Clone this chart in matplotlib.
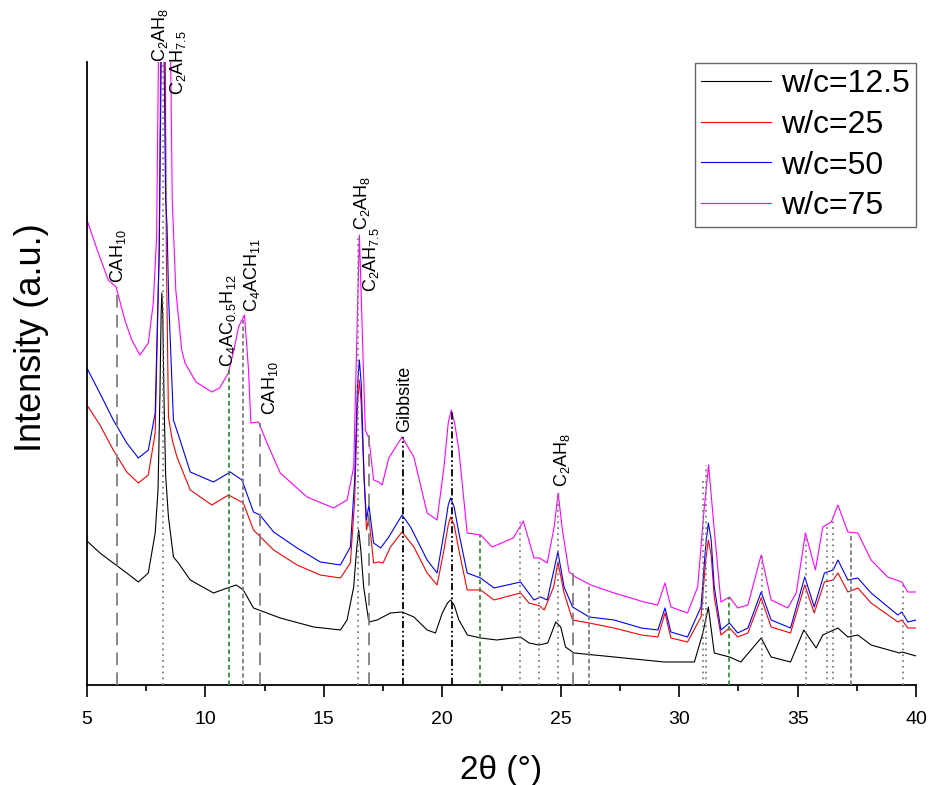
import matplotlib
matplotlib.use('Agg')
import matplotlib.pyplot as plt

plt.rcParams['font.family'] = ['Liberation Sans', 'DejaVu Sans']
plt.rcParams['mathtext.fontset'] = 'custom'
plt.rcParams['mathtext.rm'] = 'Liberation Sans'
plt.rcParams['mathtext.it'] = 'Liberation Sans:italic'

# traced XRD patterns (2theta in degrees, intensity in arbitrary units)
x_125 = [5.0, 5.55, 6.11, 6.68, 7.17, 7.59, 7.88, 8.0, 8.08, 8.13, 8.16, 8.2, 8.25, 8.32,
         8.44, 8.65, 8.86, 9.36, 10.34, 11.05, 11.3, 11.6, 12.03, 13.16, 14.57, 15.7, 15.98,
         16.26, 16.38, 16.47, 16.56, 16.68, 16.9, 17.25, 17.81, 18.3, 18.8, 19.36, 19.71,
         20.0, 20.22, 20.35, 20.5, 20.7, 21.06, 21.62, 22.3, 23.3, 23.66, 24.08, 24.45,
         24.79, 25.0, 25.2, 25.56, 27.25, 29.37, 30.64, 31.0, 31.23, 31.48, 32.12, 32.6,
         33.46, 33.88, 34.7, 35.26, 35.78, 36.06, 36.7, 37.12, 37.54, 38.1, 39.3, 39.4, 40.0]
y_125 = [144, 132, 122, 112, 103, 112, 152, 195, 290, 370, 392, 370, 290, 210,
         168, 128, 122, 105, 92, 98, 100, 95, 77, 67, 58, 55, 65,
         98, 135, 155, 135, 98, 63, 65, 72, 73, 68, 55, 52,
         72, 82, 85, 80, 65, 50, 47, 45, 48, 42, 40, 42,
         63, 58, 38, 32, 28, 23, 23, 52, 78, 32, 28, 23,
         47, 28, 23, 55, 37, 50, 57, 48, 50, 40, 32, 33, 29]

x_25 = [5.0, 5.55, 6.11, 6.68, 7.17, 7.59, 7.88, 8.05, 8.12, 8.3, 8.35, 8.44, 8.6, 8.8, 9.36,
        10.27, 10.98, 11.6, 12.03, 12.88, 13.87, 14.85, 15.7, 16.12, 16.3, 16.42, 16.5,
        16.58, 16.65, 16.8, 16.9, 17.1, 17.32, 17.5, 17.81, 18.3, 18.8, 19.36, 19.78,
        20.07, 20.25, 20.35, 20.5, 20.7, 21.05, 21.62, 22.18, 23.3, 23.66, 24.12, 24.3,
        24.7, 24.88, 25.14, 25.5, 26.2, 27.25, 28.4, 29.1, 29.4, 29.65, 30.35, 30.92,
        31.12, 31.23, 31.35, 31.48, 31.76, 32.12, 32.47, 32.9, 33.46, 33.88, 34.7, 35.3,
        35.7, 36.13, 36.5, 36.7, 37.12, 37.54, 38.1, 39.23, 39.4, 39.65, 40.0]
y_25 = [280, 260, 235, 213, 202, 210, 252, 435, 660, 660, 435, 268, 245, 228, 195,
        180, 190, 182, 155, 135, 120, 110, 107, 122, 185, 280, 305,
        280, 235, 155, 168, 122, 123, 122, 138, 153, 138, 112, 100,
        135, 160, 168, 160, 135, 95, 95, 85, 92, 82, 79, 75,
        98, 123, 92, 65, 62, 57, 50, 48, 72, 47, 43, 68,
        125, 145, 130, 88, 50, 57, 48, 52, 87, 58, 52, 100,
        72, 103, 105, 112, 93, 97, 82, 63, 65, 57, 57]

x_50 = [5.0, 5.69, 6.11, 6.68, 7.17, 7.59, 7.88, 8.05, 8.15, 8.25, 8.32, 8.38, 8.45, 8.65,
        8.93, 9.36, 10.34, 11.05, 11.54, 12.03, 12.3, 12.88, 13.87, 14.85, 15.7, 16.12,
        16.3, 16.42, 16.5, 16.58, 16.7, 16.8, 16.9, 17.1, 17.4, 17.74, 18.3, 18.66, 19.36,
        19.78, 20.07, 20.25, 20.35, 20.5, 20.7, 21.05, 21.62, 22.18, 23.3, 23.87, 24.15,
        24.43, 24.88, 25.14, 25.5, 26.2, 27.25, 28.4, 29.1, 29.4, 29.65, 30.35, 30.92,
        31.12, 31.23, 31.35, 31.48, 31.76, 32.12, 32.47, 32.9, 33.46, 33.88, 34.7, 35.3,
        35.7, 36.13, 36.5, 36.7, 37.12, 37.54, 38.1, 39.23, 39.4, 39.65, 40.0]
y_50 = [317, 285, 265, 242, 227, 235, 272, 435, 660, 640, 485, 460, 385, 265,
        245, 213, 203, 213, 205, 173, 170, 153, 137, 123, 120, 138,
        205, 300, 325, 300, 205, 165, 180, 142, 137, 148, 170, 158, 125,
        112, 152, 180, 187, 178, 152, 112, 107, 97, 103, 85, 88,
        85, 133, 98, 78, 68, 65, 57, 55, 77, 53, 48, 78,
        140, 162, 145, 98, 55, 62, 52, 57, 93, 65, 57, 108,
        78, 112, 115, 125, 105, 107, 92, 70, 73, 63, 65]

x_75 = [5.0, 5.48, 5.9, 6.23, 6.6, 6.89, 7.24, 7.59, 7.8, 7.94, 8.05, 8.5, 8.6, 8.75,
        9.0, 9.14, 9.6, 10.27, 10.6, 10.97, 11.2, 11.4, 11.5, 11.65, 11.82, 11.92, 12.24,
        12.6, 13.16, 14.29, 15.41, 15.98, 16.26, 16.4, 16.5, 16.62, 16.75, 16.9, 17.1,
        17.32, 17.46, 17.74, 18.3, 18.8, 19.36, 19.78, 20.07, 20.25, 20.38, 20.52, 20.7,
        21.05, 21.62, 22.1, 23.0, 23.42, 23.87, 24.1, 24.43, 24.72, 24.89, 25.07, 25.35,
        25.63, 26.27, 27.25, 28.52, 29.09, 29.4, 29.65, 30.35, 30.78, 31.06, 31.24, 31.48,
        31.76, 32.12, 32.47, 32.9, 33.46, 33.88, 34.58, 34.94, 35.33, 35.75, 36.06, 36.42,
        36.7, 37.12, 37.54, 38.1, 38.8, 39.4, 39.65, 40.0]
y_75 = [465, 432, 405, 398, 365, 345, 330, 342, 382, 448, 700, 700, 485, 395,
        335, 322, 303, 293, 297, 312, 335, 358, 363, 370, 315, 262, 263,
        242, 212, 188, 177, 185, 218, 355, 450, 355, 255, 247, 205,
        203, 200, 227, 248, 228, 172, 165, 218, 262, 275, 262, 235,
        152, 150, 138, 147, 164, 127, 127, 122, 158, 192, 155, 113,
        108, 100, 92, 83, 80, 102, 78, 72, 98, 178, 220, 155,
        83, 88, 77, 80, 130, 85, 77, 92, 152, 115, 158, 163,
        180, 153, 152, 125, 108, 103, 93, 93]

series_labels = ['w/c=12.5', 'w/c=25', 'w/c=50', 'w/c=75']

# phase reference lines: position, top of the line, kind
ref_pos = [6.25, 8.2, 11.0, 11.6, 12.3, 16.45, 16.9, 18.35, 20.4, 21.6, 23.3, 24.1,
           24.87, 25.5, 26.2, 31.0, 31.15, 32.1, 33.48, 35.35, 36.24, 36.5, 37.26, 39.45]
ref_top = [398, 623, 315, 365, 262, 450, 250, 248, 275, 150, 163, 127,
           190, 112, 100, 205, 220, 88, 130, 148, 162, 168, 153, 103]
ref_kind = ['long', 'dot', 'green', 'short', 'long', 'dot', 'long', 'dd', 'dd', 'green', 'dot', 'dot',
            'dot', 'long', 'short', 'dot', 'dot', 'green', 'dot', 'dot', 'dot', 'dot', 'short', 'dot']

# phase labels
lab_text = [r'CAH$_{10}$', r'C$_2$AH$_8$', r'C$_2$AH$_{7.5}$', r'C$_4$AC$_{0.5}$H$_{12}$',
            r'C$_4$ACH$_{11}$', r'CAH$_{10}$', r'C$_2$AH$_8$', r'C$_2$AH$_{7.5}$',
            'Gibbsite', r'C$_2$AH$_8$']
lab_x = [6.31, 8.09, 8.85, 10.96, 11.98, 12.74, 16.59, 16.99, 18.4, 25.04]
lab_y = [402, 623, 590, 318, 373, 270, 455, 393, 253, 198]

styles = {
    'long': dict(color='#7f7f7f', dashes=(7, 4)),
    'short': dict(color='#7f7f7f', dashes=(2.5, 1.5)),
    'dot': dict(color='#7f7f7f', dashes=(1, 2.2)),
    'green': dict(color='#3c8a3c', dashes=(2.5, 1.8)),
    'dd': dict(color='black', dashes=(4, 1.5, 1, 1.5, 1, 1.5)),
}

fig = plt.figure(figsize=(9.31, 7.85), dpi=100)
ax = fig.add_axes([0.0934, 0.1274, 0.8906, 0.7936])

ax.plot(x_125, y_125, color='black', lw=0.8, label=series_labels[0])
ax.plot(x_25, y_25, color='red', lw=0.8, label=series_labels[1])
ax.plot(x_50, y_50, color='blue', lw=0.8, label=series_labels[2])
ax.plot(x_75, y_75, color='#ff00ff', lw=0.8, label=series_labels[3])

for xp, top, kind in zip(ref_pos, ref_top, ref_kind):
    ax.plot([xp, xp], [0, top], lw=1.3, zorder=3, **styles[kind])

for t, xp, yp in zip(lab_text, lab_x, lab_y):
    ax.text(xp, yp, t, rotation=90, ha='center', va='bottom', fontsize=13,
            clip_on=False)

ax.set_xlim(5, 40)
ax.set_ylim(0, 623)
ax.set_yticks([])
ax.set_xticks([5, 10, 15, 20, 25, 30, 35, 40])
ax.set_xticks([7.5, 12.5, 17.5, 22.5, 27.5, 32.5, 37.5], minor=True)
ax.tick_params(axis='x', which='major', length=8.5, width=1.2, labelsize=14, pad=10)
ax.tick_params(axis='x', which='minor', length=4.5, width=1.2)
for side in ['top', 'right']:
    ax.spines[side].set_visible(False)
for side in ['left', 'bottom']:
    ax.spines[side].set_linewidth(1.3)

ax.set_xlabel('2θ (°)', fontsize=24, labelpad=20)
ax.set_ylabel('Intensity (a.u.)', fontsize=26)
ax.yaxis.set_label_coords(-0.046, 0.557)

leg = ax.legend(loc='upper right', bbox_to_anchor=(0.9839, 0.9197), bbox_transform=fig.transFigure,
                fontsize=23, frameon=True, fancybox=False, edgecolor='#404040',
                handlelength=2.2, labelspacing=0.33, borderpad=0.2, handletextpad=0.3,
                borderaxespad=0.0)
leg.get_frame().set_linewidth(1.0)

fig.savefig('out.png', dpi=100)
